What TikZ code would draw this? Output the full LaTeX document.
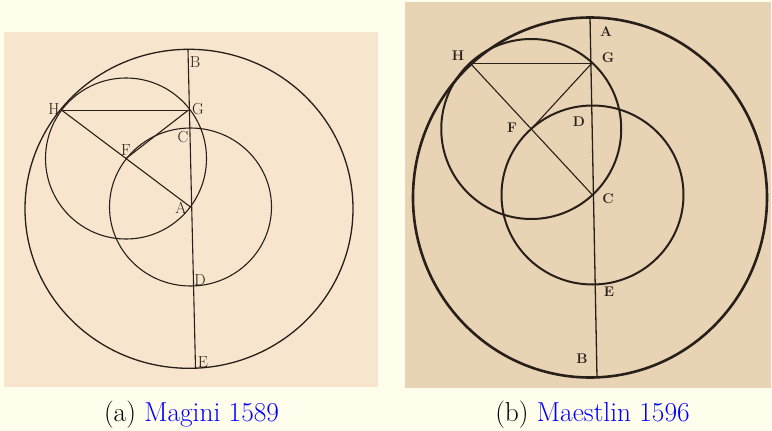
\documentclass[tikz,border=0pt]{standalone}
\usepackage{tikz}
\usetikzlibrary{
  positioning,
  calc
}
\definecolor{cream}{RGB}{255,253,236}
\definecolor{parchment}{RGB}{247,229,206}
\definecolor{oldpaper}{RGB}{232,211,181}
\definecolor{inkbrown}{RGB}{40,31,25}
\definecolor{linkblue}{RGB}{0,0,255}
\tikzset{
  letter/.style={font=\fontsize{16}{16}\selectfont, text=inkbrown, inner sep=0pt},
  boldletter/.style={font=\fontsize{14}{14}\selectfont\bfseries, text=inkbrown, inner sep=0pt},
  subcap/.style={anchor=base, font=\fontsize{27.4}{30}\selectfont, inner sep=0pt},
  inkthin/.style={draw=inkbrown, line width=1.1pt},
  inkthick/.style={draw=inkbrown, line width=2pt}
}

\begin{document}
\begin{tikzpicture}[x=1pt, y=-1pt]
  \useasboundingbox (0,0) rectangle (772,431);
  \fill[cream] (0,0) rectangle (772,431);
  \fill[parchment] (4,32) rectangle (378,387);
  \fill[oldpaper] (405,2) rectangle (771,388);

  % (a) Magini
  \coordinate (aB) at (188,50);
  \coordinate (aE) at (195.5,368);
  \coordinate (aH) at (61.5,110);
  \coordinate (aG) at (188.5,110);
  \coordinate (aA) at (190.5,207);
  \coordinate (aF) at ($(aH)!0.5!(aA)$);
  \coordinate (aO) at (189,208.8);
  \draw[inkthin, line width=1.3pt] (aO) ellipse [x radius=164, y radius=159.5];
  \draw[inkthin] (aF) circle [radius=80.5];
  \draw[inkthin] (aA) ellipse [x radius=81, y radius=79];
  \draw[inkthin] (aB) -- (aE);
  \draw[inkthin, line width=0.9pt] (aH) -- (aG);
  \draw[inkthin] (aH) -- (aA);
  \draw[inkthin] (aG) -- (aF);
  \node[letter] (labaB) at (195,62) {B};
  \node[letter] (labaH) at (54,109) {H};
  \node[letter] (labaG) at (198,109) {G};
  \node[letter] (labaC) at (183,137) {C};
  \node[letter] (labaF) at (126,150) {F};
  \node[letter] (labaA) at (181,208) {A};
  \node[letter] (labaD) at (200,280) {D};
  \node[letter] (labaE) at (203,362) {E};

  % (b) Maestlin
  \coordinate (bA) at (590,17);
  \coordinate (bB) at (597,377);
  \coordinate (bH) at (470,63);
  \coordinate (bG) at (592,63);
  \coordinate (bC) at (592.5,195);
  \coordinate (bF) at ($(bH)!0.5!(bC)$);
  \coordinate (bO) at (590,197.5);
  \draw[inkthick, line width=2.6pt] (bO) ellipse [x radius=177, y radius=180];
  \draw[inkthick] (bF) circle [radius=90];
  \draw[inkthick] (bC) ellipse [x radius=91, y radius=89.5];
  \draw[inkthin, line width=1.3pt] (bA) -- (bB);
  \draw[inkthin, line width=0.9pt] (bH) -- (bG);
  \draw[inkthin] (bH) -- (bC);
  \draw[inkthin] (bG) -- (bF);
  \node[boldletter] (labbA) at (606,32) {A};
  \node[boldletter] (labbG) at (608,58) {G};
  \node[boldletter] (labbH) at (458,56) {H};
  \node[boldletter] (labbF) at (512,128) {F};
  \node[boldletter] (labbD) at (579,122) {D};
  \node[boldletter] (labbC) at (608,199) {C};
  \node[boldletter] (labbE) at (609,292) {E};
  \node[boldletter] (labbB) at (582,359) {B};

  \node[subcap] (capa) at (191.5,421) {(a) \textcolor{linkblue}{Magini 1589}};
  \node[subcap] (capb) at (592.5,421) {(b) \textcolor{linkblue}{Maestlin 1596}};
\end{tikzpicture}
\end{document}
